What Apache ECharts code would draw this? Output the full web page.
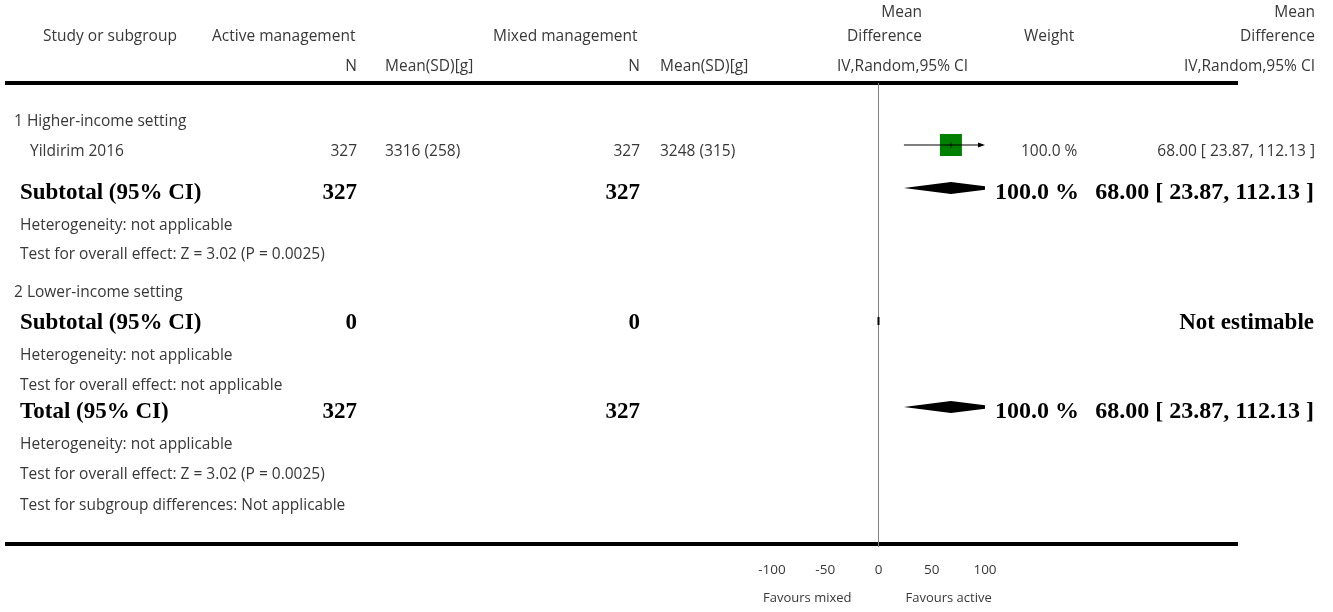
<!DOCTYPE html>
<html><head><meta charset="utf-8">
<script src="https://cdn.jsdelivr.net/npm/echarts@6/dist/echarts.min.js"></script>
<style>html,body{margin:0;padding:0;background:#fff}#c{width:1333px;height:612px}</style>
</head><body><div id="c"></div>
<script>
// ---------------- data ----------------
const subgroupNames = ['1 Higher-income setting', '2 Lower-income setting'];
const studyNames = ['Yildirim 2016'];
const studySubgroup = [0];
const studyActiveN = [327];
const studyActiveMeanSD = ['3316 (258)'];
const studyMixedN = [327];
const studyMixedMeanSD = ['3248 (315)'];
const studyMD = [68.00];
const studyLower = [23.87];
const studyUpper = [112.13];
const studyWeight = [100.0];

const subtotalActiveN = [327, 0];
const subtotalMixedN = [327, 0];
const subtotalMD = [68.00, null];
const subtotalLower = [23.87, null];
const subtotalUpper = [112.13, null];
const subtotalWeight = [100.0, null];
const subtotalHeterogeneity = ['Heterogeneity: not applicable', 'Heterogeneity: not applicable'];
const subtotalEffect = ['Test for overall effect: Z = 3.02 (P = 0.0025)', 'Test for overall effect: not applicable'];

const totalActiveN = [327];
const totalMixedN = [327];
const totalMD = [68.00];
const totalLower = [23.87];
const totalUpper = [112.13];
const totalWeight = [100.0];
const totalHeterogeneity = ['Heterogeneity: not applicable'];
const totalEffect = ['Test for overall effect: Z = 3.02 (P = 0.0025)'];
const subgroupDifferences = ['Test for subgroup differences: Not applicable'];

const xTicks = [-100, -50, 0, 50, 100];
const favoursLabels = ['Favours mixed', 'Favours active'];
const headerLabels = {
  study: 'Study or subgroup', active: 'Active management', mixed: 'Mixed management',
  n: 'N', meanSD: 'Mean(SD)[g]', mean: 'Mean', diff: 'Difference', ci: 'IV,Random,95% CI',
  weight: 'Weight', subtotal: 'Subtotal (95% CI)', total: 'Total (95% CI)', notEst: 'Not estimable'
};

// ---------------- layout (pixels, not data) ----------------
const AX_Y = 544;             // bottom rule / axis
const HEAD_RULE_Y = 83;
const ROW_Y = [120, 150, 192, 224, 253, 291, 322, 354, 384, 411, 443, 473, 504];
const COL = { study: 43, group: 14, studyName: 30, bold: 20, actN: 357, actM: 385, mixN: 640, mixM: 660,
              midHdr: 922, midCI: 837, weight: 1021, boldWeight: 995, right: 1315, boldRight: 1314 };
const REG = '15.5px "Open Sans"';
const BOLD = 'bold 23px "Liberation Serif"';
const BOLD_NUM = 'bold 24px "Liberation Serif"';
const TXT = '#383838';
const REG_DY = 2, BOLD_DY = 1;

const fmtCI = (m, l, u) => m.toFixed(2) + ' [ ' + l.toFixed(2) + ', ' + u.toFixed(2) + ' ]';
const fmtW = w => w.toFixed(1) + ' %';

const graphics = [];
function txt(s, x, y, align, font, color) {
  const dy = font ? BOLD_DY : REG_DY;
  graphics.push({ type: 'text', x: x, y: y + dy, silent: true,
    style: { text: String(s), font: font || REG, fill: color || TXT, textAlign: align || 'left', textVerticalAlign: 'middle' } });
}
// header
txt(headerLabels.mean, COL.midHdr, 11, 'right');
txt(headerLabels.mean, COL.right, 11, 'right');
txt(headerLabels.study, COL.study, 35);
txt(headerLabels.active, 212, 35);
txt(headerLabels.mixed, 493, 35);
txt(headerLabels.diff, COL.midHdr, 35, 'right');
txt(headerLabels.weight, 1024, 35);
txt(headerLabels.diff, COL.right, 35, 'right');
txt(headerLabels.n, COL.actN, 65, 'right');
txt(headerLabels.meanSD, COL.actM, 65);
txt(headerLabels.n, COL.mixN, 65, 'right');
txt(headerLabels.meanSD, COL.mixM, 65);
txt(headerLabels.ci, COL.midCI, 65);
txt(headerLabels.ci, COL.right, 65, 'right');
graphics.push({ type: 'line', silent: true, shape: { x1: 5, y1: HEAD_RULE_Y, x2: 1238, y2: HEAD_RULE_Y }, style: { stroke: '#000', lineWidth: 4 } });
graphics.push({ type: 'line', silent: true, shape: { x1: 5, y1: AX_Y, x2: 1238, y2: AX_Y }, style: { stroke: '#000', lineWidth: 4 } });

// body rows
const marks = []; // [md, lo, hi, y, kind]  kind: 0 study, 1 diamond, 2 empty
let r = 0;
function boldSummary(w, m, l, u, y) {
  txt(fmtW(w), COL.boldWeight, y, 'left', BOLD_NUM, '#000');
  txt(fmtCI(m, l, u), COL.boldRight, y, 'right', BOLD_NUM, '#000');
}
subgroupNames.forEach((g, gi) => {
  txt(g, COL.group, ROW_Y[r]); r++;
  studyNames.forEach((s, si) => {
    if (studySubgroup[si] !== gi) return;
    const y = ROW_Y[r];
    txt(s, COL.studyName, y);
    txt(studyActiveN[si], COL.actN, y, 'right');
    txt(studyActiveMeanSD[si], COL.actM, y);
    txt(studyMixedN[si], COL.mixN, y, 'right');
    txt(studyMixedMeanSD[si], COL.mixM, y);
    txt(fmtW(studyWeight[si]), COL.weight, y);
    txt(fmtCI(studyMD[si], studyLower[si], studyUpper[si]), COL.right, y, 'right');
    marks.push([studyMD[si], studyLower[si], studyUpper[si], y - 5, 0]);
    r++;
  });
  const y = ROW_Y[r];
  txt(headerLabels.subtotal, COL.bold, y, 'left', BOLD, '#000');
  txt(subtotalActiveN[gi], COL.actN, y, 'right', BOLD, '#000');
  txt(subtotalMixedN[gi], COL.mixN, y, 'right', BOLD, '#000');
  if (subtotalMD[gi] != null) {
    boldSummary(subtotalWeight[gi], subtotalMD[gi], subtotalLower[gi], subtotalUpper[gi], y);
    marks.push([subtotalMD[gi], subtotalLower[gi], subtotalUpper[gi], y - 4, 1]);
  } else {
    txt(headerLabels.notEst, COL.boldRight, y, 'right', BOLD, '#000');
    marks.push([0, 0, 0, y - 1, 2]);
  }
  r++;
  txt(subtotalHeterogeneity[gi], COL.bold, ROW_Y[r]); r++;
  txt(subtotalEffect[gi], COL.bold, ROW_Y[r]); r++;
});
{
  const y = ROW_Y[r];
  txt(headerLabels.total, COL.bold, y, 'left', BOLD, '#000');
  txt(totalActiveN[0], COL.actN, y, 'right', BOLD, '#000');
  txt(totalMixedN[0], COL.mixN, y, 'right', BOLD, '#000');
  boldSummary(totalWeight[0], totalMD[0], totalLower[0], totalUpper[0], y);
  marks.push([totalMD[0], totalLower[0], totalUpper[0], y - 4, 1]);
  r++;
  txt(totalHeterogeneity[0], COL.bold, ROW_Y[r]); r++;
  txt(totalEffect[0], COL.bold, ROW_Y[r]); r++;
  txt(subgroupDifferences[0], COL.bold, ROW_Y[r]); r++;
}

const X_MIN = xTicks[0], X_MAX = xTicks[xTicks.length - 1];
const SQ = 22, DH = 6;

function renderMark(params, api) {
  const md = api.value(0), lo = api.value(1), hi = api.value(2), yv = api.value(3), kind = api.value(4);
  const cl = v => Math.max(X_MIN, Math.min(X_MAX, v));
  const px = v => api.coord([cl(v), yv])[0];
  const y = api.coord([0, yv])[1];
  const ch = [];
  if (kind === 0) {
    const xl = px(lo), xr = px(hi), xc = px(md);
    ch.push({ type: 'rect', shape: { x: xc - SQ / 2, y: y - SQ / 2, width: SQ, height: SQ }, style: { fill: '#008000' } });
    ch.push({ type: 'line', shape: { x1: xl, y1: y, x2: xr - (hi > X_MAX ? 5 : 0), y2: y }, style: { stroke: '#000', lineWidth: 1 } });
    ch.push({ type: 'line', shape: { x1: xc, y1: y - 2.5, x2: xc, y2: y + 2.5 }, style: { stroke: '#000', lineWidth: 1 } });
    if (hi > X_MAX) ch.push({ type: 'polygon', shape: { points: [[xr, y], [xr - 7, y - 2.5], [xr - 7, y + 2.5]] }, style: { fill: '#000' } });
    if (lo < X_MIN) ch.push({ type: 'polygon', shape: { points: [[xl, y], [xl + 7, y - 2.5], [xl + 7, y + 2.5]] }, style: { fill: '#000' } });
  } else if (kind === 1) {
    const pts = [[px(lo), y], [px(md), y - DH]];
    if (hi > X_MAX) {
      const h = DH * (hi - X_MAX) / (hi - md);
      pts.push([px(X_MAX), y - h], [px(X_MAX), y + h]);
    } else pts.push([px(hi), y]);
    pts.push([px(md), y + DH]);
    ch.push({ type: 'polygon', shape: { points: pts }, style: { fill: '#000' } });
  } else {
    const xc = px(0);
    ch.push({ type: 'line', shape: { x1: xc, y1: y - 4, x2: xc, y2: y + 4 }, style: { stroke: '#000', lineWidth: 2 } });
  }
  return { type: 'group', children: ch };
}
function renderZero(params, api) {
  const a = api.coord([0, HEAD_RULE_Y]), b = api.coord([0, AX_Y + 3]);
  return { type: 'line', shape: { x1: a[0], y1: a[1], x2: b[0], y2: b[1] }, style: { stroke: '#808080', lineWidth: 1 } };
}

const chart = echarts.init(document.getElementById('c'), null, { renderer: 'canvas' });
chart.setOption({
  animation: false,
  backgroundColor: '#fff',
  grid: { left: 772, width: 213, top: 0, height: AX_Y },
  xAxis: {
    type: 'value', min: X_MIN, max: X_MAX, interval: 50,
    axisLine: { show: false },
    axisTick: { show: true, inside: true, length: 6, lineStyle: { color: '#000', width: 2.5 } },
    axisLabel: { margin: 19, fontFamily: 'Open Sans', fontSize: 13.5, color: TXT },
    splitLine: { show: false }
  },
  yAxis: { type: 'value', min: 0, max: AX_Y, inverse: true, show: false },
  series: [
    { type: 'custom', renderItem: renderZero, data: [[0, 0]], z: 1, silent: true },
    { type: 'custom', renderItem: renderMark, data: marks, encode: { x: [0, 1, 2], y: 3 }, z: 2, silent: true }
  ],
  graphic: graphics
});
const zeroPx = chart.convertToPixel({ xAxisIndex: 0 }, 0);
graphics.push({ type: 'text', x: zeroPx - 27, y: 598, silent: true, style: { text: favoursLabels[0], font: '13px "Open Sans"', fill: TXT, textAlign: 'right', textVerticalAlign: 'middle' } });
graphics.push({ type: 'text', x: zeroPx + 27, y: 598, silent: true, style: { text: favoursLabels[1], font: '13px "Open Sans"', fill: TXT, textAlign: 'left', textVerticalAlign: 'middle' } });
chart.setOption({ graphic: graphics });
</script></body></html>
